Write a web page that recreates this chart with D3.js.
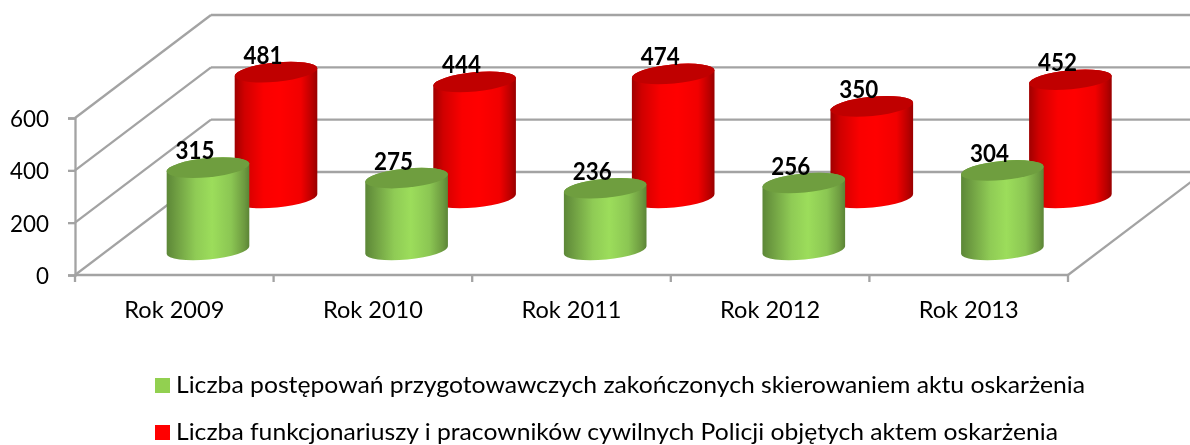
<!DOCTYPE html>
<html><head><meta charset="utf-8">
<script src="https://cdnjs.cloudflare.com/ajax/libs/d3/7.9.0/d3.min.js"></script>
<style>html,body{margin:0;background:#fff}svg{display:block;filter:blur(0.35px)}text{font-family:Lato,"Open Sans",sans-serif;fill:#000}</style>
</head><body><div id="c"></div>
<script>
const categories=["Rok 2009","Rok 2010","Rok 2011","Rok 2012","Rok 2013"];
const seriesGreen=[315,275,236,256,304];
const seriesRed=[481,444,474,350,452];
const legendLabels=["Liczba postępowań przygotowawczych zakończonych skierowaniem aktu oskarżenia","Liczba funkcjonariuszy i pracowników cywilnych Policji objętych aktem oskarżenia"];
const yTicks=[0,200,400,600];

const W=1190,H=445;
const svg=d3.select("#c").append("svg").attr("width",W).attr("height",H);
const front={x0:75,x1:1068,y0:275,y1:118};
const depth={dx:136,dy:-103};
const gridColor="#a3a3a3";
const y=d3.scaleLinear().domain([0,600]).range([front.y0,front.y1]);
const x=d3.scaleBand().domain(categories).range([front.x0,front.x1]);

const defs=svg.append("defs");
function grad(id,stops){const g=defs.append("linearGradient").attr("id",id);
  stops.forEach(s=>g.append("stop").attr("offset",s[0]).attr("stop-color",s[1]));}
grad("gGreen",[[0,"#5c8737"],[.12,"#6f9e42"],[.35,"#8fcb55"],[.55,"#9cdd5b"],[.78,"#8bc653"],[.94,"#6d9a40"],[1,"#5b8436"]]);
grad("gRed",[[0,"#a00000"],[.12,"#d00000"],[.35,"#fa0000"],[.55,"#ff0000"],[.8,"#f20000"],[.94,"#b80000"],[1,"#980000"]]);

// walls
const grid=svg.append("g").attr("fill","none").attr("stroke",gridColor).attr("stroke-width",2.3);
yTicks.forEach(t=>{
  grid.append("line").attr("x1",front.x0).attr("y1",y(t)).attr("x2",front.x0+depth.dx).attr("y2",y(t)+depth.dy);
  grid.append("line").attr("x1",front.x0+depth.dx).attr("y1",y(t)+depth.dy).attr("x2",W).attr("y2",y(t)+depth.dy);
});
grid.append("line").attr("x1",front.x0).attr("y1",front.y0).attr("x2",front.x1).attr("y2",front.y0);
grid.append("line").attr("x1",front.x1).attr("y1",front.y0).attr("x2",front.x1+depth.dx).attr("y2",front.y0+depth.dy);

// y axis
const ay=svg.append("g").attr("transform",`translate(${front.x0},0)`)
  .call(d3.axisLeft(y).tickValues(yTicks).tickSize(7).tickPadding(19).tickFormat(d3.format("d")));
ay.selectAll("path,line").attr("stroke",gridColor).attr("stroke-width",2.3);
ay.selectAll("text").style("font-size","24px").attr("dy","0.36em").attr("textLength",39).attr("lengthAdjust","spacingAndGlyphs");
ay.selectAll("text").filter(d=>d===0).attr("textLength",13);

// x axis
const tickPositions=d3.range(categories.length+1).map(i=>front.x0+i*x.step());
svg.append("g").selectAll("line").data(tickPositions).join("line")
  .attr("x1",d=>d).attr("x2",d=>d).attr("y1",front.y0).attr("y2",front.y0+7)
  .attr("stroke",gridColor).attr("stroke-width",2.3);
svg.append("g").selectAll("text").data(categories).join("text")
  .attr("x",d=>x(d)+x.bandwidth()/2).attr("y",318).attr("text-anchor","middle")
  .attr("textLength",100).attr("lengthAdjust","spacingAndGlyphs")
  .style("font-size","23px").text(d=>d);

// cylinders
const unit=Math.abs(y(1)-y(0));
const rx=41.5,ry=9.6,tilt=-5.5,rad=tilt*Math.PI/180;
const dxE=rx*Math.cos(rad),dyE=rx*Math.sin(rad);
function drawSeries(vals,offX,baseY,fill,topFill){
  const g=svg.append("g");
  vals.forEach((v,i)=>{
    const cx=x(categories[i])+offX, top=baseY-v*unit;
    const ax=cx-dxE,bx=cx+dxE,ay0=-dyE,by0=dyE;
    g.append("path").attr("fill",`url(#${fill})`)
      .attr("d",`M${ax},${top+ay0}L${ax},${baseY+ay0}A${rx},${ry} ${tilt} 0 0 ${bx},${baseY+by0}L${bx},${top+by0}A${rx},${ry} ${tilt} 0 0 ${ax},${top+ay0}Z`);
    g.append("ellipse").attr("rx",rx).attr("ry",ry).attr("fill",topFill)
      .attr("transform",`translate(${cx},${top}) rotate(${tilt})`);
    svg.append("text").attr("class","lab").attr("x",cx-13).attr("y",top-8.5).attr("text-anchor","middle")
      .attr("textLength",39).attr("lengthAdjust","spacingAndGlyphs")
      .style("font-size","24px").style("font-weight","700").text(v);
  });
}
drawSeries(seriesRed,201,198,"gRed","#c00000");
drawSeries(seriesGreen,133,250,"gGreen","#6f9e3f");
svg.selectAll("text.lab").raise();

// legend
const legY=[393,440],legW=[909,882],legCol=["#92d050","#ff0000"];
legendLabels.forEach((t,i)=>{
  svg.append("rect").attr("x",155).attr("y",legY[i]-15).attr("width",15).attr("height",15).attr("fill",legCol[i]);
  svg.append("text").attr("x",176).attr("y",legY[i]).style("font-size","24px")
    .attr("textLength",legW[i]).attr("lengthAdjust","spacingAndGlyphs").text(t);
});
</script></body></html>
